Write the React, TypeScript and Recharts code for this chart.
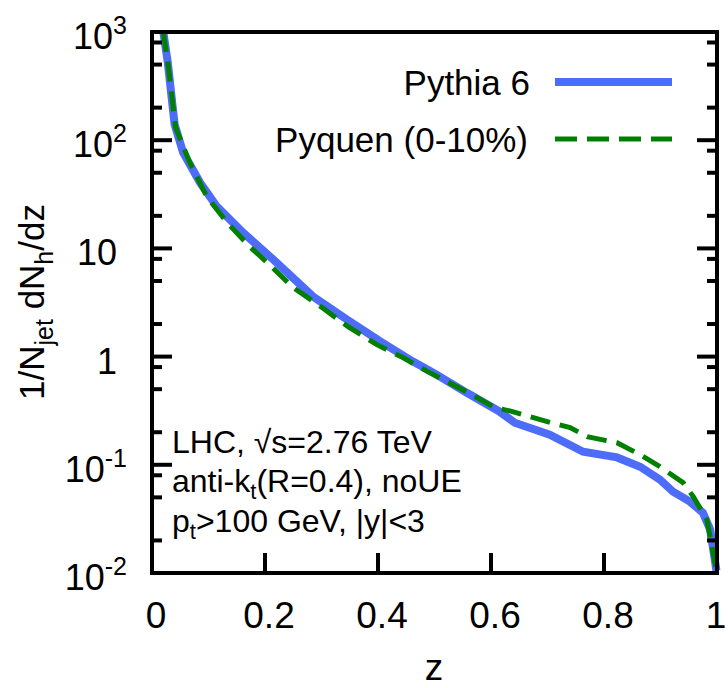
import React from "react";
import { LineChart, Line, XAxis, YAxis } from "recharts";

// z values and 1/Njet dNh/dz
const pythiaZ = [0.02, 0.028, 0.04, 0.055, 0.085, 0.115, 0.161, 0.209, 0.285, 0.345, 0.404, 0.462, 0.5, 0.558, 0.614, 0.642, 0.704, 0.763, 0.823, 0.864, 0.899, 0.922, 0.952, 0.975, 0.988, 0.999];
const pythiaV = [1000, 520, 140, 77, 40.6, 24.3, 14.0, 8.4, 3.59, 2.2, 1.38, 0.9, 0.7, 0.46, 0.313, 0.245, 0.19, 0.132, 0.117, 0.096, 0.073, 0.0565, 0.0457, 0.0361, 0.0252, 0.0105];

const pyquenZ = [0.02, 0.028, 0.042, 0.067, 0.097, 0.133, 0.173, 0.204, 0.25, 0.301, 0.347, 0.398, 0.444, 0.487, 0.556, 0.607, 0.635, 0.706, 0.74, 0.77, 0.823, 0.864, 0.899, 0.94, 0.958, 0.982, 0.996, 1.0];
const pyquenV = [1000, 520, 130, 62, 30.1, 17.3, 10.4, 7.39, 4.34, 2.84, 1.89, 1.29, 0.98, 0.73, 0.475, 0.338, 0.313, 0.245, 0.221, 0.182, 0.16, 0.124, 0.096, 0.0685, 0.0508, 0.0312, 0.0127, 0.01];

const xTicks = [0, 0.2, 0.4, 0.6, 0.8, 1];
const xTickLabels = ["0", "0.2", "0.4", "0.6", "0.8", "1"];
const yMajor = [0.01, 0.1, 1, 10, 100, 1000];
const yBase = ["10", "10", "1", "10", "10", "10"];
const yExp = ["-2", "-1", "", "", "2", "3"];
const yMinorMult = [2, 5, 8];

const pythia = pythiaZ.map((z, i) => ({ z, v: pythiaV[i] }));
const pyquen = pyquenZ.map((z, i) => ({ z, v: pyquenV[i] }));
const yTicks = [
  ...yMajor,
  ...yMajor.slice(0, -1).flatMap((d) => yMinorMult.map((m) => d * m)),
].sort((a, b) => a - b);

const FONT = "'Liberation Sans', Arial, Helvetica, sans-serif";
const BLUE = "#4d6cf7";
const GREEN = "#008000";
const MAJOR = 20;
const MINOR = 10;

const LeftTick = (props: any) => {
  const { x, y, payload } = props;
  const i = yMajor.indexOf(payload.value);
  const major = i >= 0;
  return (
    <g>
      <line x1={x} x2={x + (major ? MAJOR : MINOR)} y1={y} y2={y} stroke="#000" strokeWidth={4} />
      {major && (
        <text x={yExp[i] ? x - 25 : x - 35} y={y + 17} textAnchor="end" fontSize={36} fontFamily={FONT} fill="#000">
          {yBase[i]}
          {yExp[i] && (
            <tspan dy={-15} fontSize={25}>
              {yExp[i]}
            </tspan>
          )}
        </text>
      )}
    </g>
  );
};

const RightTick = (props: any) => {
  const { x, y, payload } = props;
  const major = yMajor.indexOf(payload.value) >= 0;
  return <line x1={x} x2={x - (major ? MAJOR : MINOR)} y1={y} y2={y} stroke="#000" strokeWidth={4} />;
};

const BottomTick = (props: any) => {
  const { x, y, payload } = props;
  const i = xTicks.indexOf(payload.value);
  const last = i === xTicks.length - 1;
  return (
    <g>
      {i > 0 && !last && <line x1={x} x2={x} y1={y} y2={y - MAJOR} stroke="#000" strokeWidth={4} />}
      <text x={last ? x - 1 : x + 4} y={y + 55} textAnchor="middle" fontSize={37} fontFamily={FONT} fill="#000">
        {xTickLabels[i]}
      </text>
    </g>
  );
};

const TopTick = (props: any) => {
  const { x, y, payload } = props;
  const i = xTicks.indexOf(payload.value);
  if (i === 0 || i === xTicks.length - 1) return <g />;
  return <line x1={x} x2={x} y1={y} y2={y + MAJOR} stroke="#000" strokeWidth={4} />;
};

const axisLine = { stroke: "#000", strokeWidth: 4, strokeLinecap: "square" as const };

export default function App() {
  return (
    <div style={{ position: "absolute", left: 0, top: 0, width: 728, height: 688, background: "#fff" }}>
      <LineChart width={728} height={688} margin={{ top: 22, right: 1, left: 52, bottom: 35 }}>
        <XAxis
          xAxisId="b"
          dataKey="z"
          type="number"
          domain={[0, 1]}
          ticks={xTicks}
          interval={0}
          height={80}
          tickSize={0}
          tickMargin={0}
          axisLine={axisLine}
          tick={<BottomTick />}
        />
        <XAxis
          xAxisId="t"
          orientation="top"
          dataKey="z"
          type="number"
          domain={[0, 1]}
          ticks={xTicks}
          interval={0}
          height={10}
          tickSize={0}
          tickMargin={0}
          axisLine={axisLine}
          tick={<TopTick />}
        />
        <YAxis
          yAxisId="l"
          type="number"
          scale="log"
          domain={[0.01, 1000]}
          allowDataOverflow
          ticks={yTicks}
          interval={0}
          width={100}
          tickSize={0}
          tickMargin={0}
          axisLine={axisLine}
          tick={<LeftTick />}
        />
        <YAxis
          yAxisId="r"
          orientation="right"
          type="number"
          scale="log"
          domain={[0.01, 1000]}
          allowDataOverflow
          ticks={yTicks}
          interval={0}
          width={10}
          tickSize={0}
          tickMargin={0}
          axisLine={axisLine}
          tick={<RightTick />}
        />
        <Line
          xAxisId="b"
          yAxisId="l"
          data={pythia}
          dataKey="v"
          type="linear"
          stroke={BLUE}
          strokeWidth={8}
          dot={false}
          isAnimationActive={false}
        />
        <Line
          xAxisId="b"
          yAxisId="l"
          data={pyquen}
          dataKey="v"
          type="linear"
          stroke={GREEN}
          strokeWidth={5}
          strokeDasharray="20 10"
          dot={false}
          isAnimationActive={false}
        />
      </LineChart>
      <svg
        width={728}
        height={688}
        style={{ position: "absolute", left: 0, top: 0, pointerEvents: "none" }}
        fontFamily={FONT}
      >
        {/* legend */}
        <text x={530} y={95} textAnchor="end" fontSize={35}>Pythia 6</text>
        <line x1={555} x2={672} y1={82} y2={82} stroke={BLUE} strokeWidth={8} />
        <text x={528} y={152} textAnchor="end" fontSize={35}>Pyquen (0-10%)</text>
        <line x1={555} x2={672} y1={139} y2={139} stroke={GREEN} strokeWidth={5} strokeDasharray="22 10" />

        {/* notes */}
        <text x={172} y={453} fontSize={32}>LHC, √s=2.76 TeV</text>
        <text x={172} y={492} fontSize={32}>
          anti-k<tspan dy={7} fontSize={22}>t</tspan>
          <tspan dy={-7}>(R=0.4), noUE</tspan>
        </text>
        <text x={172} y={532} fontSize={32}>
          p<tspan dy={7} fontSize={22}>t</tspan>
          <tspan dy={-7}>&gt;100 GeV, |y|&lt;3</tspan>
        </text>

        {/* axis titles */}
        <text x={434} y={680} textAnchor="middle" fontSize={37}>z</text>
        <text transform="translate(44,302) rotate(-90)" textAnchor="middle" fontSize={35}>
          1/N<tspan dy={9} fontSize={25}>jet</tspan>
          <tspan dy={-9}> dN</tspan>
          <tspan dy={9} fontSize={25}>h</tspan>
          <tspan dy={-9}>/dz</tspan>
        </text>
      </svg>
    </div>
  );
}
